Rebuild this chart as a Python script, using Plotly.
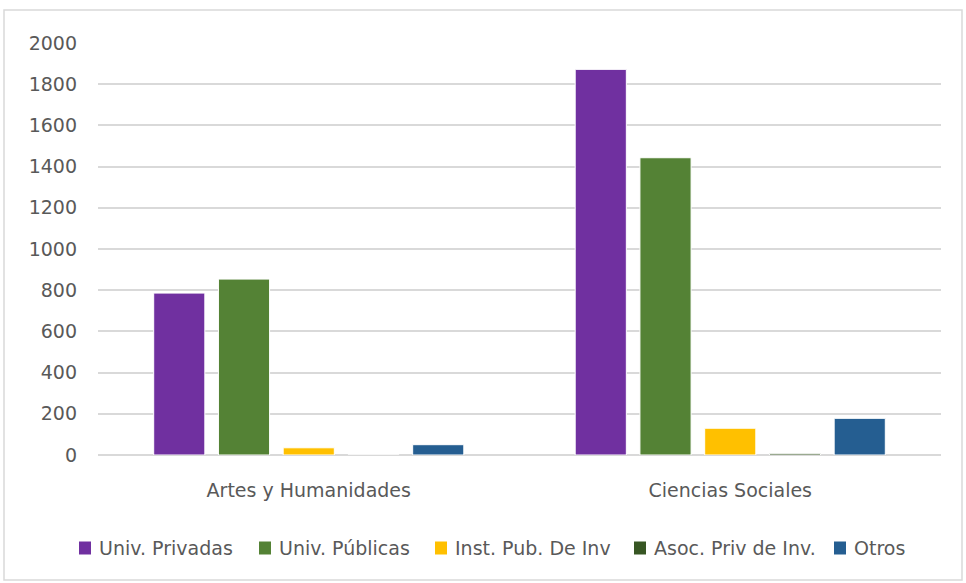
import plotly.graph_objects as go

categories = ["Artes y Humanidades", "Ciencias Sociales"]
series_names = ["Univ. Privadas", "Univ. Públicas", "Inst. Pub. De Inv", "Asoc. Priv de Inv.", "Otros"]
univ_privadas = [786, 1872]
univ_publicas = [854, 1443]
inst_pub = [35, 130]
asoc_priv = [0, 8]
otros = [50, 178]
colors = ["#7030A0", "#548235", "#FFC000", "#375623", "#255E91"]

values = [univ_privadas, univ_publicas, inst_pub, asoc_priv, otros]
FONT = "DejaVu Sans, sans-serif"
FS = 19
TXT = "#595959"

fig = go.Figure()
for name, vals, col in zip(series_names, values, colors):
    fig.add_trace(go.Bar(x=categories, y=vals, name=name, showlegend=False,
                         marker=dict(color=col, line=dict(color="white", width=1))))

W, H = 966, 583
L, R, T, B = 98, 941, 43, 455
pw, ph = R - L, B - T

def px(x):
    return (x - L) / pw

def py(y):
    return (B - y) / ph

shapes = [dict(type="rect", xref="paper", yref="paper",
               x0=px(4), x1=px(962), y0=py(580), y1=py(10),
               line=dict(color="#d9d9d9", width=1.5), fillcolor="rgba(0,0,0,0)", layer="below")]
annotations = []
legend_x = [79, 259, 435, 634, 834]
leg_y = 548
for name, col, lx in zip(series_names, colors, legend_x):
    shapes.append(dict(type="rect", xref="paper", yref="paper",
                       x0=px(lx), x1=px(lx + 12), y0=py(leg_y + 6.5), y1=py(leg_y - 6.5),
                       line=dict(width=0), fillcolor=col))
    annotations.append(dict(xref="paper", yref="paper", x=px(lx + 18), y=py(leg_y),
                            xanchor="left", yanchor="middle", showarrow=False, text=name,
                            font=dict(family=FONT, size=FS, color=TXT)))

fig.update_layout(
    width=W, height=H,
    margin=dict(l=L, r=W - R, t=T, b=H - B),
    paper_bgcolor="white", plot_bgcolor="white",
    barmode="group", bargap=0.232, bargroupgap=0.21,
    font=dict(family=FONT, size=FS, color=TXT),
    showlegend=False,
    xaxis=dict(showgrid=False, showline=False, ticks="", ticklabelstandoff=22,
               tickfont=dict(family=FONT, size=FS, color=TXT)),
    yaxis=dict(range=[0, 2000], dtick=200, showgrid=True, gridcolor="#d9d9d9", gridwidth=1.5,
               zeroline=True, zerolinecolor="#d9d9d9", zerolinewidth=1.5, showline=False,
               ticks="", ticklabelstandoff=20,
               tickfont=dict(family=FONT, size=FS, color=TXT)),
    shapes=shapes,
    annotations=annotations,
)

fig.write_html("out.html", config={"displayModeBar": False},
               post_script="document.body.style.margin='0px';")
